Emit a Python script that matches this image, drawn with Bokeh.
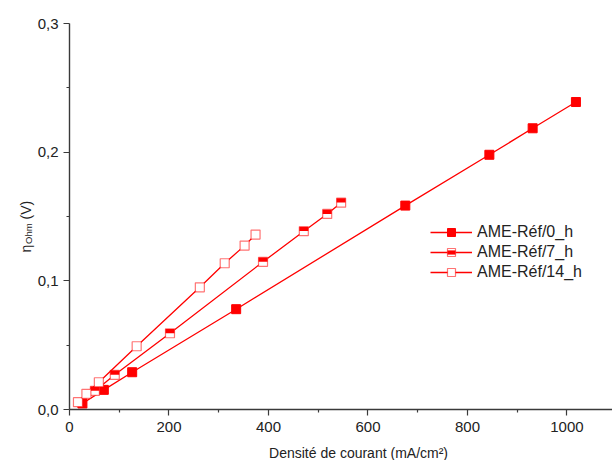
import math
from bokeh.plotting import figure
from bokeh.models import (Range1d, FixedTicker, CustomJSTickFormatter, Legend, LegendItem,
                          Label, ColumnDataSource, LinearAxis)
from bokeh.transform import dodge
from bokeh.embed import file_html
from bokeh.resources import INLINE

# ---- data (current density mA/cm², ohmic overpotential V) ----
j_0h = [26, 69, 126, 335, 675, 844, 931, 1018]
eta_0h = [0.0047, 0.0153, 0.029, 0.078, 0.1585, 0.198, 0.2186, 0.239]

j_7h = [51, 91, 202, 389, 471, 518, 546]
eta_7h = [0.0145, 0.027, 0.0593, 0.1148, 0.1386, 0.152, 0.1608]

j_14h = [17, 34, 59, 135, 262, 312, 352, 374]
eta_14h = [0.0057, 0.0122, 0.0212, 0.0492, 0.095, 0.1137, 0.1274, 0.136]

labels = ["AME-Réf/0_h", "AME-Réf/7_h", "AME-Réf/14_h"]
x_ticks = [0, 200, 400, 600, 800, 1000]
x_minor = [100, 300, 500, 700, 900]
y_ticks = [0.0, 0.1, 0.2, 0.3]
y_minor = [0.05, 0.15, 0.25]

FONT = "Liberation Sans"
RED = "#ff0000"
TXT = "#222222"
AX = "#3a3a3a"

# the frame covers the whole canvas; axes are pinned at x=0 / y=0
p = figure(width=612, height=460, output_backend="svg", toolbar_location=None,
           x_range=Range1d(-138.7, 1091.5), y_range=Range1d(-0.0396, 0.3179),
           x_axis_location=None, y_axis_location=None,
           min_border_left=0, min_border_top=0, min_border_bottom=0, min_border_right=0)
p.outline_line_color = None
p.background_fill_color = "white"
p.border_fill_color = "white"
for g in p.grid:
    g.visible = False
p.xgrid.visible = False
p.ygrid.visible = False

xax = LinearAxis(fixed_location=0, bounds=(0, 1091.5),
                 ticker=FixedTicker(ticks=x_ticks, minor_ticks=x_minor))
yax = LinearAxis(fixed_location=0, bounds=(0, 0.3),
                 ticker=FixedTicker(ticks=y_ticks, minor_ticks=y_minor),
                 formatter=CustomJSTickFormatter(code="return tick.toFixed(1).replace('.', ',');"))
for ax in (xax, yax):
    ax.axis_line_color = AX
    ax.axis_line_width = 1.4
    ax.major_tick_line_color = AX
    ax.minor_tick_line_color = AX
    ax.major_tick_line_width = 1.2
    ax.minor_tick_line_width = 1.2
    ax.major_tick_in = 0
    ax.major_tick_out = 6
    ax.minor_tick_in = 0
    ax.minor_tick_out = 3
    ax.major_label_text_font = FONT
    ax.major_label_text_font_size = "15px"
    ax.major_label_text_color = TXT
xax.major_label_standoff = 6
yax.major_label_standoff = 5
p.add_layout(xax, "below")
p.add_layout(yax, "left")

s0 = ColumnDataSource(dict(x=j_0h, y=eta_0h))
s7 = ColumnDataSource(dict(x=j_7h, y=eta_7h))
s14 = ColumnDataSource(dict(x=j_14h, y=eta_14h))

# 0_h
l0 = p.line("x", "y", source=s0, line_color=RED, line_width=1.3)
m0 = p.scatter("x", "y", source=s0, marker="square", size=9, fill_color=RED, line_color=RED)

# 7_h (half-filled squares)
l7 = p.line("x", "y", source=s7, line_color=RED, line_width=1.3)
m7 = p.scatter("x", "y", source=s7, marker="square", size=9, fill_color="white",
               line_color=RED, line_alpha=0.55, line_width=1.2)
h7 = p.scatter("x", dodge("y", 0.0017, range=p.y_range), source=s7, marker="dash", size=9,
               line_color=RED, line_width=4.2, line_cap="butt")

# 14_h
l14 = p.line("x", "y", source=s14, line_color=RED, line_width=1.3)
m14 = p.scatter("x", "y", source=s14, marker="square", size=9, fill_color="white",
                line_color=RED, line_alpha=0.55, line_width=1.2)

legend = Legend(items=[LegendItem(label=labels[0], renderers=[l0, m0]),
                       LegendItem(label=labels[1], renderers=[l7, m7, h7]),
                       LegendItem(label=labels[2], renderers=[l14, m14])],
                location=(430, 178), padding=0, margin=0, spacing=0,
                glyph_width=42, glyph_height=20, label_height=20, label_standoff=5,
                label_text_font=FONT, label_text_font_size="16px", label_text_color=TXT,
                border_line_alpha=0, background_fill_alpha=0)
p.add_layout(legend)

# axis titles (y title with subscript)
p.add_layout(Label(x=581, y=-0.0334, text="Densité de courant (mA/cm²)", text_align="center",
                   text_baseline="middle", text_font=FONT, text_font_size="14px",
                   text_color=TXT))
common = dict(angle=math.pi / 2, text_align="left", text_baseline="middle",
              text_font=FONT, text_color=TXT)
p.add_layout(Label(x=-88.4, y=0.1221, text="η", text_font_size="14px", **common))
p.add_layout(Label(x=-82.4, y=0.1287, text="Ohm", text_font_size="9.5px", **common))
p.add_layout(Label(x=-88.4, y=0.1477, text="(V)", text_font_size="14px", **common))

open("out.html", "w").write(file_html(p, INLINE))
